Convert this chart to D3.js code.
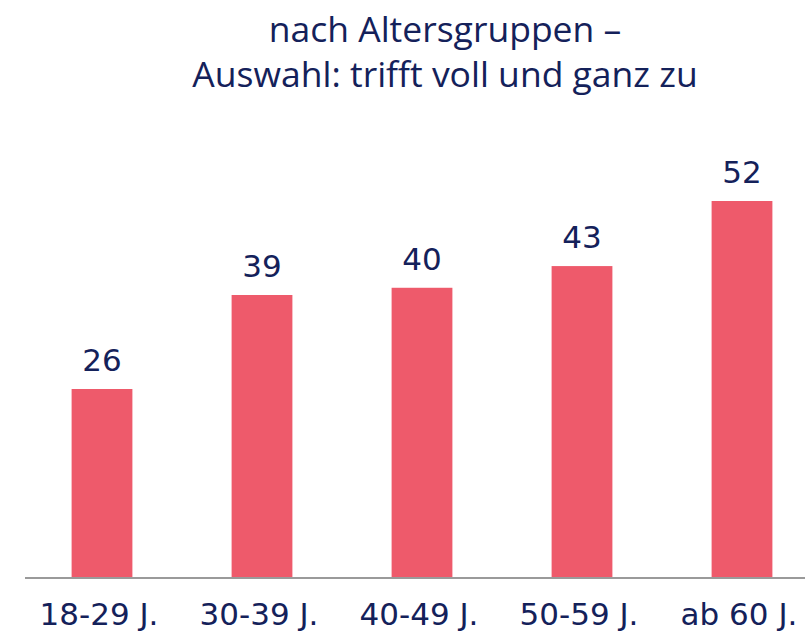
<!DOCTYPE html>
<html>
<head>
<meta charset="utf-8">
<script src="https://cdn.jsdelivr.net/npm/d3@7"></script>
<style>
  body { margin: 0; background: #fff; }
  svg { display: block; }
</style>
</head>
<body>
<svg></svg>
<script>
var categories = ["18-29 J.", "30-39 J.", "40-49 J.", "50-59 J.", "ab 60 J."];
var values = [26, 39, 40, 43, 52];
var titleLines = ["nach Altersgruppen \u2013", "Auswahl: trifft voll und ganz zu"];

var width = 805;
var height = 633;
var navy = "#14215a";

var svg = d3.select("svg")
    .attr("width", width)
    .attr("height", height);

var x = d3.scaleBand()
    .domain(categories)
    .range([22, 822])
    .paddingInner(0.62)
    .paddingOuter(0.31);

var y = d3.scaleLinear()
    .domain([0, 52])
    .range([577, 201]);

// title
svg.append("text")
    .attr("x", 445)
    .attr("y", 42)
    .attr("text-anchor", "middle")
    .style("font-family", "'Open Sans', sans-serif")
    .style("font-size", "35.5px")
    .attr("fill", navy)
    .selectAll("tspan")
    .data(titleLines)
    .enter()
    .append("tspan")
        .attr("x", 445)
        .attr("dy", (d, i) => i == 0 ? 0 : 45)
        .text(d => d);

svg.selectAll(".bar")
    .data(values)
    .enter()
    .append("rect")
        .classed("bar", true)
        .attr("x", (d, i) => x(categories[i]))
        .attr("y", d => y(d))
        .attr("width", x.bandwidth())
        .attr("height", d => y(0) - y(d))
        .attr("fill", "#ee5a6b");

svg.selectAll(".val")
    .data(values)
    .enter()
    .append("text")
        .classed("val", true)
        .attr("x", (d, i) => x(categories[i]) + x.bandwidth() / 2)
        .attr("y", d => y(d) - 18)
        .attr("text-anchor", "middle")
        .style("font-family", "'DejaVu Sans', Verdana, sans-serif")
        .style("font-size", "31px")
        .attr("fill", navy)
        .text(d => d);

// baseline
svg.append("line")
    .attr("x1", 25)
    .attr("x2", width)
    .attr("y1", y(0) + 1)
    .attr("y2", y(0) + 1)
    .attr("stroke", "#9a9a9a")
    .attr("stroke-width", 2);

svg.selectAll(".cat")
    .data(categories)
    .enter()
    .append("text")
        .classed("cat", true)
        .attr("x", d => x(d) + x.bandwidth() / 2 - 3)
        .attr("y", 625)
        .attr("text-anchor", "middle")
        .style("font-family", "'DejaVu Sans', Verdana, sans-serif")
        .style("font-size", "31px")
        .attr("fill", navy)
        .text(d => d);
</script>
</body>
</html>
